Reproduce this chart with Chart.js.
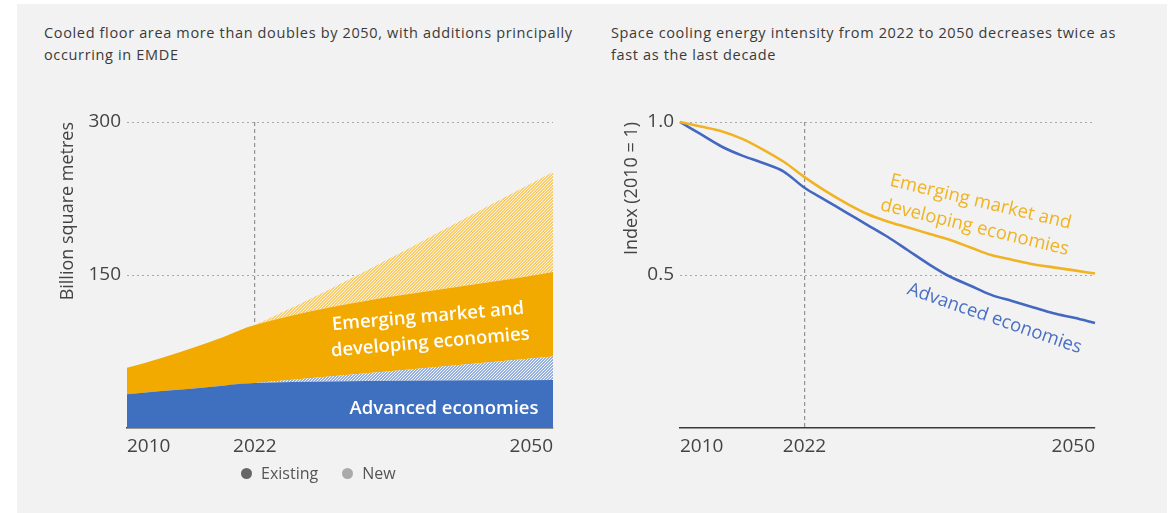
<!DOCTYPE html>
<html><head><meta charset="utf-8">
<script src="https://cdn.jsdelivr.net/npm/chart.js@4.4.1/dist/chart.umd.min.js"></script>
<style>
html,body{margin:0;padding:0;background:#fff;}
body{width:1173px;height:513px;position:relative;overflow:hidden;font-family:"Open Sans",sans-serif;}
#panel{position:absolute;left:17px;top:4px;width:1150px;height:509px;background:#f2f2f2;}
.title{position:absolute;font-size:14.5px;letter-spacing:0.65px;line-height:22px;color:#3a3a3a;white-space:nowrap;}
canvas{position:absolute;top:0;}
.lbl{position:absolute;white-space:nowrap;text-align:center;font-weight:600;line-height:26px;font-size:18.5px;}
.legend{position:absolute;top:462px;font-size:16px;color:#555;white-space:nowrap;line-height:22px;}
.dot{display:inline-block;width:11px;height:11px;border-radius:50%;vertical-align:0px;margin-right:9px;}
</style>
</head><body>
<div id="panel"></div>
<div class="title" style="left:44px;top:22px">Cooled floor area more than doubles by 2050, with additions principally<br>occurring in EMDE</div>
<div class="title" style="left:611px;top:22px">Space cooling energy intensity from 2022 to 2050 decreases twice as<br>fast as the last decade</div>
<canvas id="c1" width="573" height="513" style="left:17px"></canvas>
<canvas id="c2" width="583" height="513" style="left:590px"></canvas>
<div class="legend" style="left:241px"><span class="dot" style="background:#666"></span>Existing<span class="dot" style="background:#aaa;margin-left:24px"></span>New</div>
<div class="lbl" style="left:429px;top:328px;color:#fff;transform:translate(-50%,-50%) rotate(-4.9deg)">Emerging market and<br>developing economies</div>
<div class="lbl" style="left:444px;top:407px;color:#fff;transform:translate(-50%,-50%)">Advanced economies</div>
<div class="lbl" style="left:978px;top:213px;color:#f0b323;font-weight:500;transform:translate(-50%,-50%) rotate(13.5deg)">Emerging market and<br>developing economies</div>
<div class="lbl" style="left:995px;top:317px;color:#4a6fc4;font-weight:500;transform:translate(-50%,-50%) rotate(19deg)">Advanced economies</div>
<script>
// ---- Data: cooled floor area (billion m2), stacked ----
const floorYears = [2010, 2013, 2016, 2019, 2022, 2050];
const aeExisting = [33, 36, 38.5, 41.5, 44, 47];
const aeNew = [0, 0, 0, 0, 0, 23];
const emdeExisting = [26, 32, 39.5, 47.5, 57, 83];
const emdeNew = [0, 0, 0, 0, 0, 98];
const floorTicks = [150, 300];
const yearTicks = [2010, 2022, 2050];

// ---- Data: space cooling energy intensity index (2010 = 1) ----
const intensityYears = [2010, 2012, 2014, 2016, 2018, 2020, 2022, 2024, 2026, 2028, 2030, 2032, 2034, 2036, 2038, 2040, 2042, 2044, 2046, 2048, 2050];
const aeIntensity = [1.0, 0.96, 0.92, 0.89, 0.866, 0.838, 0.785, 0.745, 0.705, 0.665, 0.625, 0.58, 0.535, 0.495, 0.465, 0.435, 0.415, 0.395, 0.375, 0.36, 0.343];
const emdeIntensity = [1.0, 0.985, 0.97, 0.945, 0.91, 0.87, 0.82, 0.775, 0.735, 0.70, 0.675, 0.655, 0.635, 0.615, 0.59, 0.565, 0.55, 0.535, 0.525, 0.515, 0.505];
const intensityTicks = [0.5, 1.0];

const FONT = '"Open Sans", sans-serif';
const ORANGE = '#f2a900';
const BLUE = '#3f6fbf';

function hatch(base, stripe, size, lw) {
  const c = document.createElement('canvas');
  c.width = c.height = size;
  const g = c.getContext('2d');
  g.fillStyle = base; g.fillRect(0, 0, size, size);
  g.strokeStyle = stripe; g.lineWidth = lw;
  g.beginPath();
  g.moveTo(0, size); g.lineTo(size, 0);
  g.moveTo(-1, 1); g.lineTo(1, -1);
  g.moveTo(size - 1, size + 1); g.lineTo(size + 1, size - 1);
  g.stroke();
  return g.createPattern(c, 'repeat');
}

const pts = (xs, ys) => xs.map((x, i) => ({x: x, y: ys[i]}));

function yearAxis(height) {
  return {
    type: 'linear', min: 2010, max: 2050, z: 1,
    afterBuildTicks: s => { s.ticks = yearTicks.map(v => ({value: v})); },
    afterFit: s => { s.height = height; },
    ticks: {align: 'inner', padding: 7, color: '#444', font: {family: FONT, size: 19}, autoSkip: false, maxRotation: 0,
            callback: v => String(v)},
    grid: {drawTicks: false, lineWidth: 1.2, color: c => (c.tick && c.tick.value === 2022) ? 'rgba(70,70,70,0.55)' : 'rgba(0,0,0,0)'},
    border: {display: true, color: '#3a3a3a', width: 1.6, dash: [4, 3]}
  };
}

const areaDs = (label, xs, ys, bg, fill) => ({
  label: label, data: pts(xs, ys), backgroundColor: bg, borderWidth: 0,
  pointRadius: 0, fill: fill, tension: 0.3, cubicInterpolationMode: 'monotone'
});

new Chart(document.getElementById('c1'), {
  type: 'line',
  data: {
    datasets: [
      areaDs('Advanced economies - Existing', floorYears, aeExisting, BLUE, 'origin'),
      areaDs('Advanced economies - New', floorYears, aeNew, hatch(BLUE, '#f2f5fb', 3, 1.4), '-1'),
      areaDs('EMDE - Existing', floorYears, emdeExisting, ORANGE, '-1'),
      areaDs('EMDE - New', floorYears, emdeNew, hatch(ORANGE, '#fdf3de', 3, 1.4), '-1')
    ]
  },
  options: {
    responsive: false, animation: false,
    layout: {padding: {top: 122, right: 37, bottom: 0, left: 0}},
    plugins: {legend: {display: false}, tooltip: {enabled: false}},
    scales: {
      x: yearAxis(85),
      y: {
        stacked: true, min: 0, max: 300,
        afterBuildTicks: s => { s.ticks = floorTicks.map(v => ({value: v})); },
        afterFit: s => { s.width = 110; },
        ticks: {padding: 6, color: '#444', font: {family: FONT, size: 19}},
        grid: {drawTicks: false, color: '#a8a8a8', lineWidth: 1},
        border: {display: false, dash: [2, 3]},
        title: {display: true, text: 'Billion square metres', align: 'end', color: '#444',
                font: {family: FONT, size: 18}, padding: {top: 40, bottom: 0}}
      }
    }
  }
});

const lineDs = (label, xs, ys, color) => ({
  label: label, data: pts(xs, ys), borderColor: color, backgroundColor: color, borderWidth: 2.6,
  pointRadius: 0, fill: false, tension: 0.35, cubicInterpolationMode: 'monotone', clip: 8
});

new Chart(document.getElementById('c2'), {
  type: 'line',
  data: {
    datasets: [
      lineDs('Emerging market and developing economies', intensityYears, emdeIntensity, '#f0b323'),
      lineDs('Advanced economies', intensityYears, aeIntensity, '#4468c0')
    ]
  },
  options: {
    responsive: false, animation: false,
    layout: {padding: {top: 122, right: 78, bottom: 0, left: 0}},
    plugins: {legend: {display: false}, tooltip: {enabled: false}},
    scales: {
      x: yearAxis(85),
      y: {
        min: 0, max: 1,
        afterBuildTicks: s => { s.ticks = intensityTicks.map(v => ({value: v})); },
        afterFit: s => { s.width = 90; },
        ticks: {padding: 6, color: '#444', font: {family: FONT, size: 19}, callback: v => Number(v).toFixed(1)},
        grid: {drawTicks: false, color: '#a8a8a8', lineWidth: 1},
        border: {display: false, dash: [2, 3]},
        title: {display: true, text: 'Index (2010 = 1)', align: 'end', color: '#444',
                font: {family: FONT, size: 18}, padding: {top: 31, bottom: 0}}
      }
    }
  }
});
</script>
</body></html>
